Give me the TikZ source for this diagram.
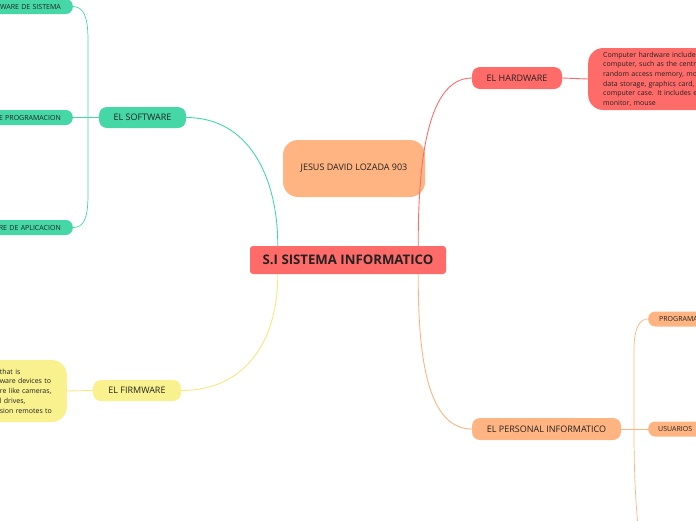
\documentclass[tikz,border=0pt]{standalone}
\usepackage{fontspec}
\setmainfont{Open Sans}
\definecolor{cgreen}{HTML}{45D7A6}
\definecolor{cred}{HTML}{FF6B68}
\definecolor{corange}{HTML}{FFB481}
\definecolor{cyellow}{HTML}{F8F18E}
\definecolor{ctext}{HTML}{222222}
\begin{document}
\begin{tikzpicture}[x=1pt,y=-1pt,
  box/.style={rounded corners=8pt, text=ctext, inner sep=0pt, font=\fontsize{9}{11}\selectfont},
  small/.style={rounded corners=7pt, text=ctext, inner ysep=0pt, inner xsep=12pt, minimum height=15pt, text width=100pt, font=\fontsize{7}{8}\selectfont},
  desc/.style={rounded corners=15pt, text=ctext, inner ysep=0pt, inner xsep=15pt, font=\fontsize{7}{9.6}\selectfont},
  link/.style={line width=0.9pt}
]
\useasboundingbox (0,0) rectangle (696,520);
\clip (0,0) rectangle (696,520);

% central
\node[fill=cred, rounded corners=3pt, minimum width=196pt, minimum height=28pt, inner sep=0pt, text=ctext, font=\fontsize{13.2}{15}\selectfont\bfseries] (central) at (348,260) {S.I SISTEMA INFORMATICO};
% author
\node[box, fill=corange, rounded corners=15pt, minimum width=142pt, minimum height=57pt, font=\fontsize{9}{11}\selectfont] (author) at (354,168.5) {JESUS DAVID LOZADA 903};

% main branches
\node[box, fill=cgreen, minimum width=87pt, minimum height=21pt] (sw) at (142.5,117.5) {EL SOFTWARE};
\node[box, fill=cred, minimum width=90pt, minimum height=22pt] (hw) at (517,78) {EL HARDWARE};
\node[box, fill=cyellow, minimum width=88pt, minimum height=21pt] (fw) at (137,390.5) {EL FIRMWARE};
\node[box, fill=corange, minimum width=149pt, minimum height=22pt] (pi) at (546.5,429) {EL PERSONAL INFORMATICO};

% software children
\node[small, fill=cgreen, align=right, anchor=east] (sw1) at (73,6.5) {WARE DE SISTEMA};
\node[small, fill=cgreen, align=right, anchor=east] (sw2) at (73,117.5) {E PROGRAMACION};
\node[small, fill=cgreen, align=right, anchor=east] (sw3) at (73,227.5) {RE DE APLICACION};

% personal children
\node[small, fill=corange, align=left, anchor=west, inner xsep=11pt] (pi1) at (648,319) {PROGRAMA};
\node[small, fill=corange, align=left, anchor=west, inner xsep=10pt] (pi2) at (648,429) {USUARIOS};
\coordinate (pi3) at (640,545);

% hardware description
\node[desc, fill=cred, anchor=west, text width=150pt, align=left, minimum height=62pt] (hwd) at (588,79)
  {Computer hardware include\\computer, such as the centr\\random access memory, mo\\data storage, graphics card,\\computer case. It includes e\\monitor, mouse};

% firmware description
\node[desc, fill=cyellow, anchor=east, text width=100pt, align=right, minimum height=62pt] (fwd) at (67,391)
  {\begin{minipage}{52pt}\raggedright\fontsize{7}{9.8}\selectfont \mbox{that is}\\\mbox{ware devices to}\\\mbox{re like cameras,}\\\mbox{l drives,}\\\mbox{sion remotes to}\end{minipage}};

% connectors
\draw[link, cgreen] (sw.east) .. controls +(62,0) and +(0,-70) .. ([xshift=28pt]central.north west);
\draw[link, cred] ([xshift=-28pt]central.north east) .. controls +(0,-70) and +(-48,0) .. (hw.west);
\draw[link, cyellow!90!orange] ([xshift=28pt]central.south west) .. controls +(0,70) and +(62,0) .. (fw.east);
\draw[link, corange] ([xshift=-28pt]central.south east) .. controls +(0,70) and +(-48,0) .. (pi.west);
\draw[link, cred] (hw.east) -- (hwd.west);
\draw[link, cyellow!90!orange] (fw.west) -- (fwd.east);

\draw[link, cgreen, line width=0.7pt] (sw.west) -- (88,117.5);
\draw[link, cgreen, line width=0.7pt] (88,117.5) -- (88,40) .. controls (88,15) and (83,7) .. (sw1.east);
\draw[link, cgreen, line width=0.7pt] (88,117.5) -- (sw2.east);
\draw[link, cgreen, line width=0.7pt] (88,117.5) -- (88,195) .. controls (88,220) and (83,227.5) .. (sw3.east);

\draw[link, corange, line width=0.7pt] (pi.east) -- (pi2.west);
\draw[link, corange, line width=0.7pt] (634,429) -- (634,350) .. controls (634,327) and (640,319) .. (pi1.west);
\draw[link, corange, line width=0.7pt] (634,429) .. controls (634,480) and (636,510) .. (pi3);
\end{tikzpicture}
\end{document}
